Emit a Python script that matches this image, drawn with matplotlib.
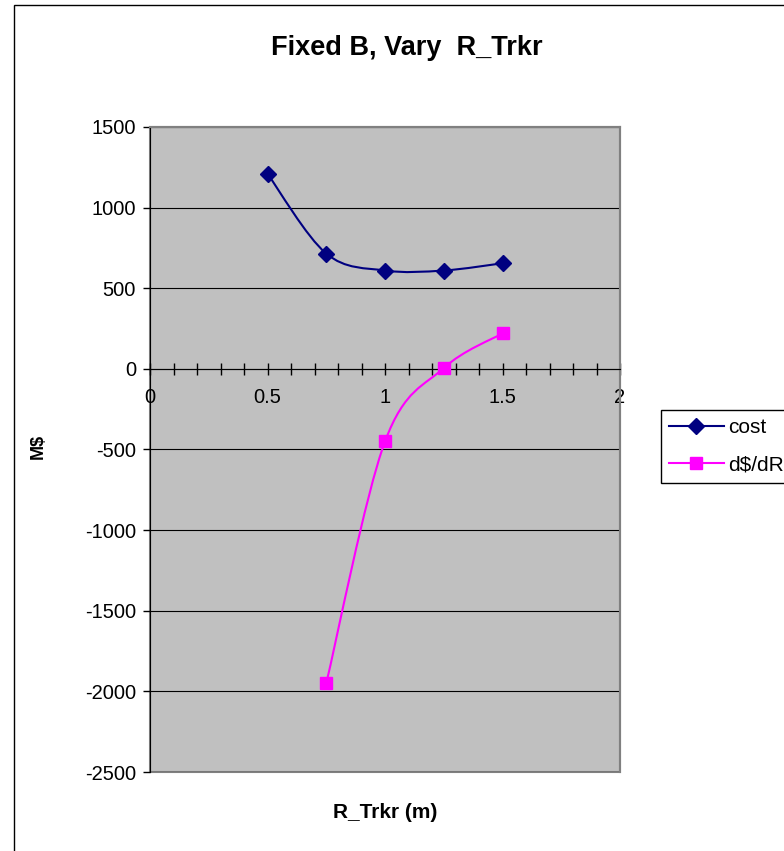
import matplotlib
matplotlib.use("Agg")
import matplotlib.pyplot as plt
from matplotlib.path import Path
from matplotlib.patches import PathPatch, Rectangle
from matplotlib.lines import Line2D
from matplotlib.ticker import MultipleLocator

plt.rcParams['font.family'] = ['Liberation Sans', 'DejaVu Sans']
plt.rcParams['axes.unicode_minus'] = False

# data
r_cost = [0.5, 0.75, 1.0, 1.25, 1.5]
cost = [1210, 715, 610, 610, 655]
r_deriv = [0.75, 1.0, 1.25, 1.5]
deriv = [-1950, -450, 5, 220]

title = "Fixed B, Vary  R_Trkr"
xlabel = "R_Trkr (m)"
ylabel = "M$"


def smooth_path(xs, ys):
    # Excel-like smoothed line: Catmull-Rom segments as cubic Beziers
    pts = list(zip(xs, ys))
    verts = [pts[0]]
    codes = [Path.MOVETO]
    n = len(pts)
    for i in range(n - 1):
        p0 = pts[i - 1] if i > 0 else pts[i]
        p1 = pts[i]
        p2 = pts[i + 1]
        p3 = pts[i + 2] if i + 2 < n else pts[i + 1]
        c1 = (p1[0] + (p2[0] - p0[0]) / 6, p1[1] + (p2[1] - p0[1]) / 6)
        c2 = (p2[0] - (p3[0] - p1[0]) / 6, p2[1] - (p3[1] - p1[1]) / 6)
        verts += [c1, c2, p2]
        codes += [Path.CURVE4] * 3
    return Path(verts, codes)


fig = plt.figure(figsize=(7.84, 8.51), dpi=100)
ax = fig.add_axes([150 / 784, 1 - 772 / 851, 470 / 784, 645 / 851])
ax.set_facecolor('#C0C0C0')
ax.patch.set_edgecolor('#808080')
ax.patch.set_linewidth(1.5)

ax.set_xlim(0, 2)
ax.set_ylim(-2500, 1500)
ax.yaxis.set_major_locator(MultipleLocator(500))
ax.xaxis.set_major_locator(MultipleLocator(0.5))
ax.xaxis.set_minor_locator(MultipleLocator(0.1))
ax.xaxis.set_major_formatter(plt.FuncFormatter(lambda v, p: f"{v:g}"))
ax.grid(axis='y', color='black', linewidth=0.8)
ax.set_axisbelow(True)

ax.spines['bottom'].set_position(('data', 0))
ax.spines['bottom'].set_color('black')
ax.spines['left'].set_color('black')
for s in ['top', 'right']:
    ax.spines[s].set_color('#808080')
    ax.spines[s].set_linewidth(1.5)

ax.tick_params(axis='x', which='both', direction='inout', length=8, width=1,
               labelsize=14.5, pad=10)
ax.tick_params(axis='y', direction='out', length=5, width=1, labelsize=14.5, pad=5)

ax.add_patch(PathPatch(smooth_path(r_cost, cost), fill=False,
                       edgecolor='#000080', linewidth=1.5, zorder=3))
ax.plot(r_cost, cost, linestyle='none', marker='D', markersize=8,
        color='#000080', zorder=4)
ax.add_patch(PathPatch(smooth_path(r_deriv, deriv), fill=False,
                       edgecolor='#FF00FF', linewidth=1.5, zorder=3))
ax.plot(r_deriv, deriv, linestyle='none', marker='s', markersize=8,
        color='#FF00FF', zorder=4)

fig.text(407 / 784, 1 - 48 / 851, title, ha='center', va='center',
         fontsize=19.5, fontweight='bold')
fig.text(385 / 784, 1 - 812 / 851, xlabel, ha='center', va='center',
         fontsize=15, fontweight='bold')
fig.text(38 / 784, 1 - 446 / 851, ylabel, ha='center', va='center',
         fontsize=13, fontweight='bold', rotation=90)

handles = [
    Line2D([], [], color='#000080', linewidth=1.5, marker='D', markersize=8),
    Line2D([], [], color='#FF00FF', linewidth=1.5, marker='s', markersize=8),
]
fig.legend(handles, ['cost', 'd$/dR'], loc='upper left',
           bbox_to_anchor=(661 / 784, 1 - 410 / 851), fontsize=15,
           frameon=True, fancybox=False, edgecolor='black', framealpha=1,
           handlelength=2.6, borderpad=0.4, labelspacing=0.87,
           handletextpad=0.2, borderaxespad=0)

fig.patches.append(Rectangle((14 / 784, -0.1), 1.2, 1 - 5 / 851 + 0.1,
                             transform=fig.transFigure, fill=False,
                             edgecolor='black', linewidth=1))

fig.savefig("out.png", dpi=100)
